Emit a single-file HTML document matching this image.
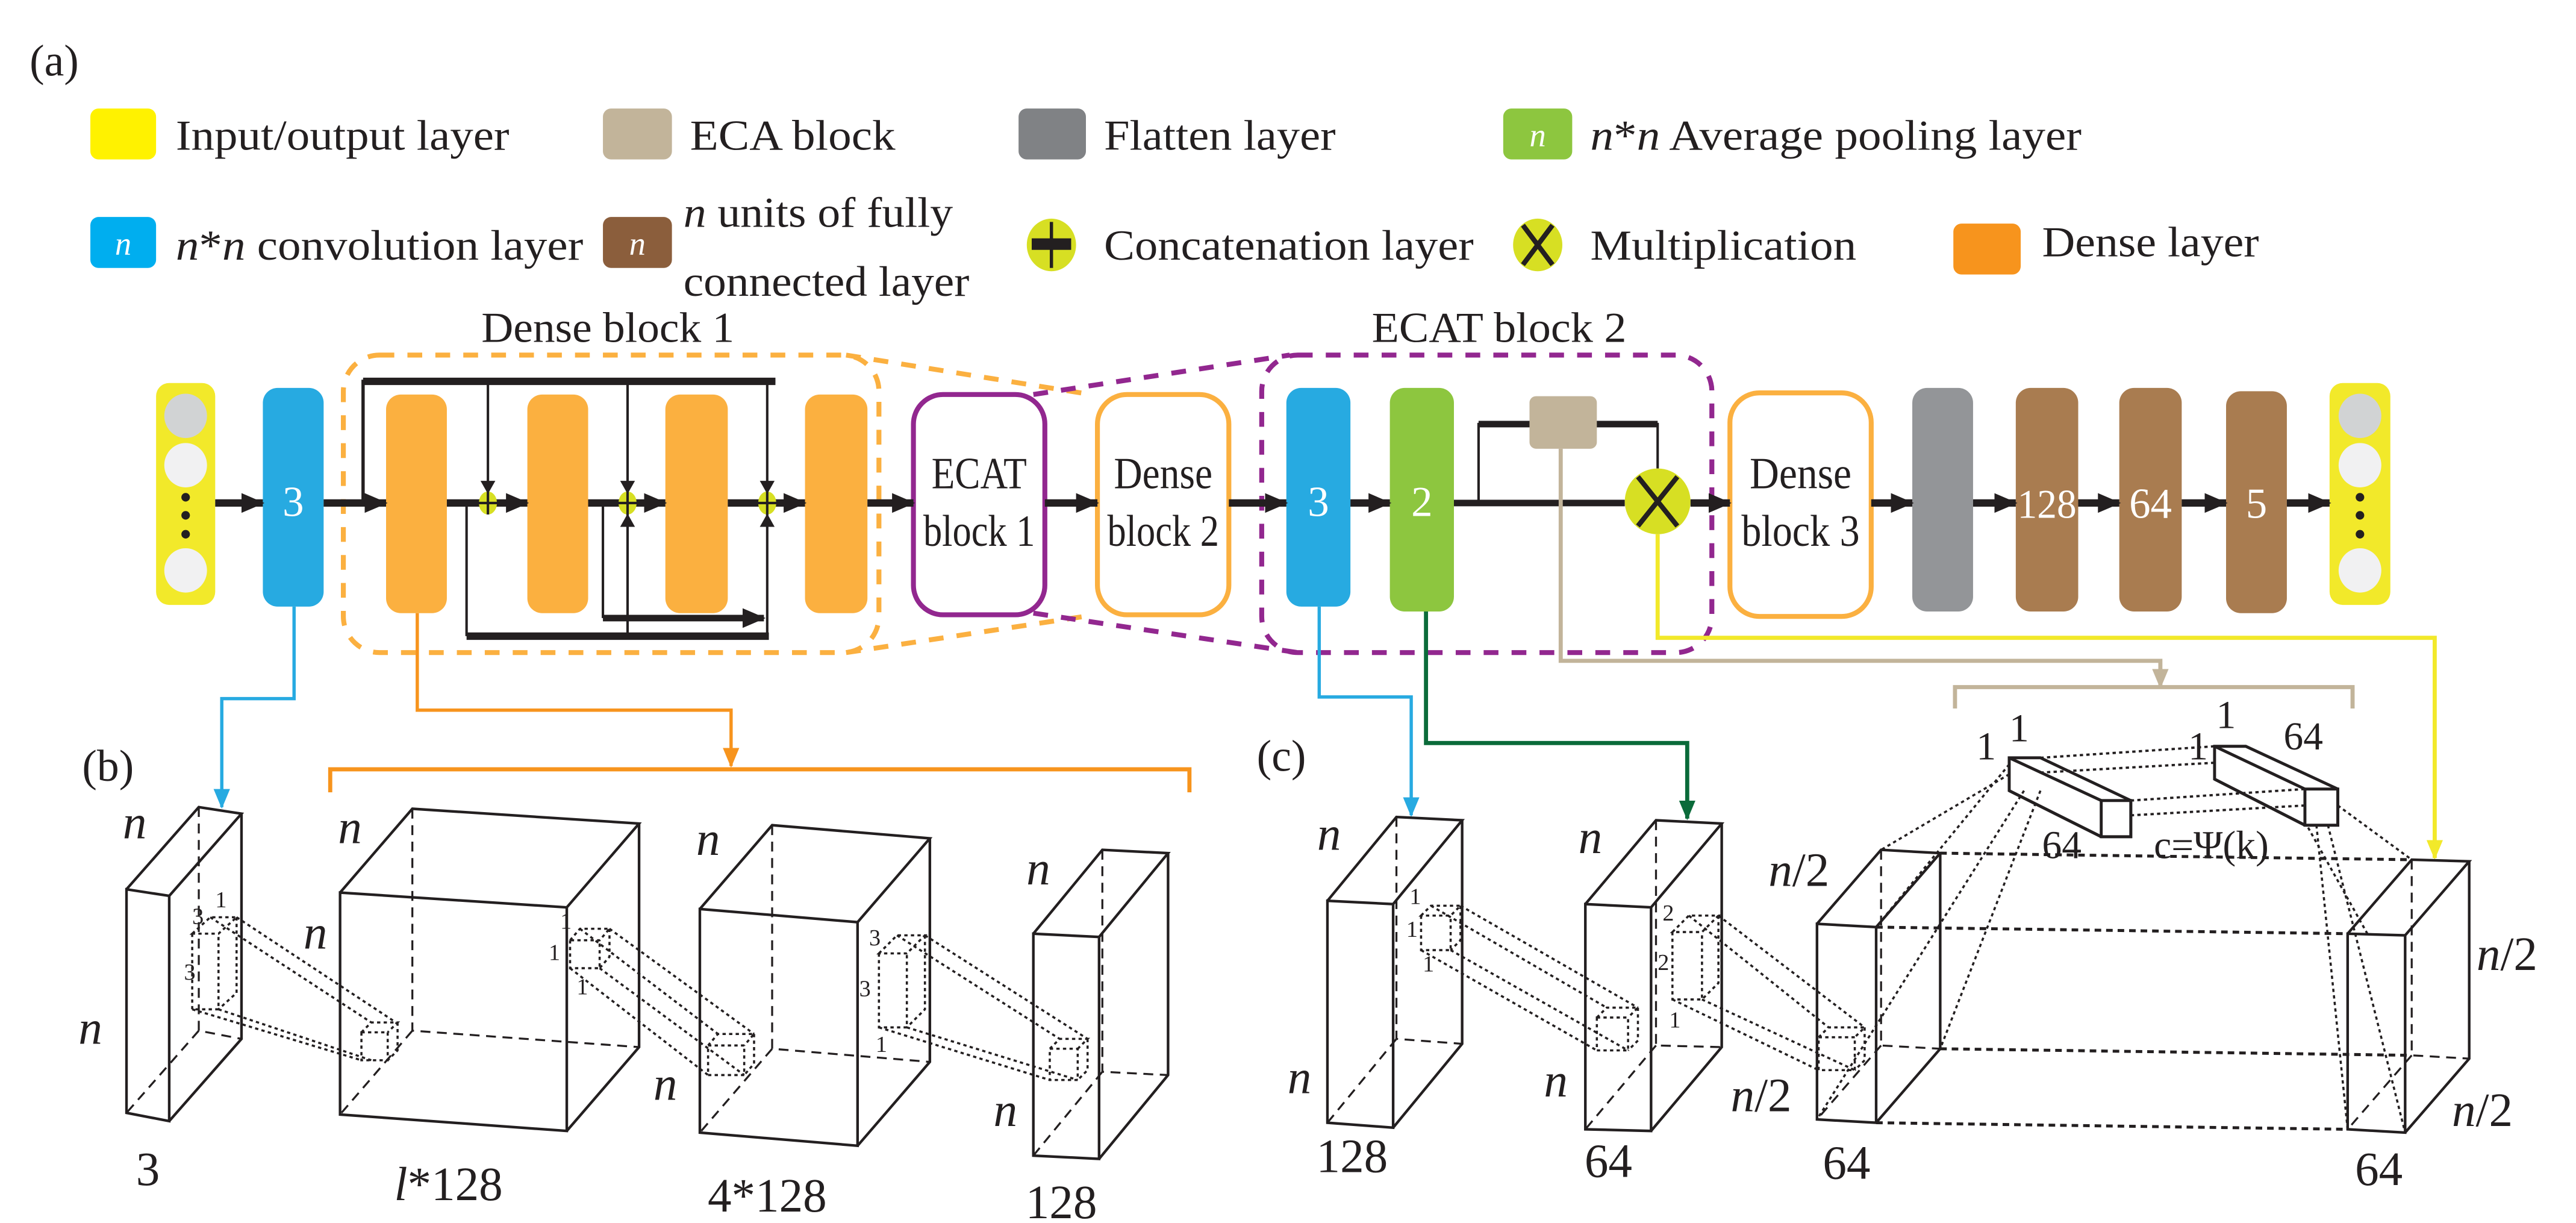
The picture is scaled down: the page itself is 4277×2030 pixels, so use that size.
<!DOCTYPE html>
<html><head><meta charset="utf-8"><style>
html,body{margin:0;padding:0;background:#fff}
svg{display:block}
text{font-family:"Liberation Serif","DejaVu Serif",serif;fill:#231f20}
.w{fill:#fff}
.it{font-style:italic}
</style></head><body>
<svg width="4277" height="2030" viewBox="0 0 1568 744" preserveAspectRatio="none" xmlns="http://www.w3.org/2000/svg" font-family="Liberation Serif, DejaVu Serif, serif">
<defs>
<marker id="ak" markerUnits="userSpaceOnUse" markerWidth="14" markerHeight="12" refX="13" refY="6" orient="auto"><path d="M0,0L14,6L0,12Z" fill="#231f20"/></marker>
<marker id="aks" markerUnits="userSpaceOnUse" markerWidth="8" markerHeight="14" refX="7.5" refY="7" orient="auto"><path d="M0,2.5L8,7L0,11.5Z" fill="#231f20"/></marker>
<marker id="ab" markerUnits="userSpaceOnUse" markerWidth="12" markerHeight="10" refX="11" refY="5" orient="auto"><path d="M0,0L12,5L0,10Z" fill="#27aae1"/></marker>
<marker id="ao" markerUnits="userSpaceOnUse" markerWidth="12" markerHeight="10" refX="11" refY="5" orient="auto"><path d="M0,0L12,5L0,10Z" fill="#f7941d"/></marker>
<marker id="ag" markerUnits="userSpaceOnUse" markerWidth="12" markerHeight="10" refX="11" refY="5" orient="auto"><path d="M0,0L12,5L0,10Z" fill="#0b6b3a"/></marker>
<marker id="at" markerUnits="userSpaceOnUse" markerWidth="12" markerHeight="10" refX="11" refY="5" orient="auto"><path d="M0,0L12,5L0,10Z" fill="#c2b49a"/></marker>
<marker id="ay" markerUnits="userSpaceOnUse" markerWidth="12" markerHeight="10" refX="11" refY="5" orient="auto"><path d="M0,0L12,5L0,10Z" fill="#f2e92a"/></marker>
</defs>

<text x="18" y="46" font-size="27">(a)</text>
<rect x="55" y="66" width="40" height="31" rx="5" fill="#fff200"/>
<text x="107" y="91" font-size="26" textLength="203" lengthAdjust="spacingAndGlyphs">Input/output layer</text>
<rect x="367" y="66" width="42" height="31" rx="5" fill="#c2b49a"/>
<text x="420" y="91" font-size="26" textLength="125" lengthAdjust="spacingAndGlyphs">ECA block</text>
<rect x="620" y="66" width="41" height="31" rx="5" fill="#808285"/>
<text x="672" y="91" font-size="26" textLength="141" lengthAdjust="spacingAndGlyphs">Flatten layer</text>
<rect x="915" y="66" width="42" height="31" rx="5" fill="#8dc63f"/>
<text x="936" y="89" font-size="20" class="w it" text-anchor="middle">n</text>
<text x="968" y="91" font-size="26" textLength="299" lengthAdjust="spacingAndGlyphs"><tspan class="it">n</tspan>*<tspan class="it">n</tspan> Average pooling layer</text>

<rect x="55" y="132" width="40" height="31" rx="5" fill="#00aeef"/>
<text x="75" y="155" font-size="20" class="w it" text-anchor="middle">n</text>
<text x="107" y="158" font-size="26" textLength="248" lengthAdjust="spacingAndGlyphs"><tspan class="it">n</tspan>*<tspan class="it">n</tspan> convolution layer</text>
<rect x="367" y="132" width="42" height="31" rx="5" fill="#8b5e3c"/>
<text x="388" y="155" font-size="20" class="w it" text-anchor="middle">n</text>
<text x="416" y="138" font-size="26" textLength="164" lengthAdjust="spacingAndGlyphs"><tspan class="it">n</tspan> units of fully</text>
<text x="416" y="180" font-size="26" textLength="174" lengthAdjust="spacingAndGlyphs">connected layer</text>
<ellipse cx="640" cy="149" rx="15" ry="16" fill="#d7df23"/>
<line x1="640" y1="135" x2="640" y2="163" stroke="#231f20" stroke-width="2"/>
<rect x="628" y="145" width="24" height="7" fill="#231f20"/>
<text x="672" y="158" font-size="26" textLength="225" lengthAdjust="spacingAndGlyphs">Concatenation layer</text>
<ellipse cx="936" cy="149" rx="15" ry="16" fill="#d7df23"/>
<path d="M927,137L945,161M945,137L927,161" stroke="#231f20" stroke-width="3"/>
<text x="968" y="158" font-size="26" textLength="162" lengthAdjust="spacingAndGlyphs">Multiplication</text>
<rect x="1189" y="136" width="41" height="31" rx="5" fill="#f7941d"/>
<text x="1243" y="156" font-size="26" textLength="132" lengthAdjust="spacingAndGlyphs">Dense layer</text>

<text x="293" y="208" font-size="26" textLength="154" lengthAdjust="spacingAndGlyphs">Dense block 1</text>
<text x="835" y="208" font-size="26" textLength="155" lengthAdjust="spacingAndGlyphs">ECAT block 2</text>

<rect x="209" y="216" width="326" height="181" rx="22" fill="none" stroke="#fbb040" stroke-width="3" stroke-dasharray="9,8"/>
<path d="M515,216L664,240M515,397L660,375" stroke="#fbb040" stroke-width="3" stroke-dasharray="9,8" fill="none"/>
<rect x="768" y="216" width="274" height="181" rx="22" fill="none" stroke="#92278f" stroke-width="3" stroke-dasharray="9,8"/>
<path d="M629,240L785,216M629,373L790,397" stroke="#92278f" stroke-width="3" stroke-dasharray="9,8" fill="none"/>

<rect x="95" y="233" width="36" height="135" rx="8" fill="#f2e92a"/>
<ellipse cx="113" cy="253" rx="13" ry="13.5" fill="#d1d3d4"/>
<ellipse cx="113" cy="283" rx="13" ry="13.5" fill="#f1f1f2"/>
<circle cx="113" cy="302.5" r="2.6" fill="#231f20"/><circle cx="113" cy="313.5" r="2.6" fill="#231f20"/><circle cx="113" cy="325" r="2.6" fill="#231f20"/>
<ellipse cx="113" cy="347" rx="13" ry="13.5" fill="#f1f1f2"/>

<rect x="160" y="236" width="37" height="133" rx="9" fill="#27aae1"/>
<text x="178.5" y="314" font-size="26" class="w" text-anchor="middle">3</text>

<rect x="235" y="240" width="37" height="133" rx="9" fill="#fbb040"/>
<rect x="321" y="240" width="37" height="133" rx="9" fill="#fbb040"/>
<rect x="405" y="240" width="38" height="133" rx="9" fill="#fbb040"/>
<rect x="490" y="240" width="38" height="133" rx="9" fill="#fbb040"/>

<g stroke="#231f20" fill="none">
<path d="M221,306V232H472" stroke-width="2"/>
<line x1="221" y1="232" x2="472" y2="232" stroke-width="4.5"/>
<line x1="297" y1="232" x2="297" y2="300" stroke-width="1.5" marker-end="url(#aks)"/>
<line x1="382" y1="232" x2="382" y2="300" stroke-width="1.5" marker-end="url(#aks)"/>
<line x1="467" y1="232" x2="467" y2="300" stroke-width="1.5" marker-end="url(#aks)"/>
<path d="M284,306V387" stroke-width="1.5"/>
<line x1="284" y1="387" x2="468" y2="387" stroke-width="4.5"/>
<line x1="382" y1="387" x2="382" y2="313" stroke-width="1.5" marker-end="url(#aks)"/>
<line x1="467" y1="387" x2="467" y2="313" stroke-width="1.5" marker-end="url(#aks)"/>
<path d="M367,306V376" stroke-width="1.5"/>
<line x1="367" y1="376" x2="465" y2="376" stroke-width="4" marker-end="url(#ak)"/>
</g>

<rect x="556" y="240" width="80" height="134" rx="18" fill="#fff" stroke="#92278f" stroke-width="3"/>
<text x="596" y="297" font-size="27" text-anchor="middle" textLength="58" lengthAdjust="spacingAndGlyphs">ECAT</text>
<text x="596" y="332" font-size="27" text-anchor="middle" textLength="68" lengthAdjust="spacingAndGlyphs">block 1</text>
<rect x="668" y="240" width="80" height="134" rx="18" fill="#fff" stroke="#fbb040" stroke-width="3"/>
<text x="708" y="297" font-size="27" text-anchor="middle" textLength="60" lengthAdjust="spacingAndGlyphs">Dense</text>
<text x="708" y="332" font-size="27" text-anchor="middle" textLength="68" lengthAdjust="spacingAndGlyphs">block 2</text>

<rect x="783" y="236" width="39" height="133" rx="9" fill="#27aae1"/>
<text x="802.5" y="314" font-size="26" class="w" text-anchor="middle">3</text>
<rect x="846" y="236" width="39" height="136" rx="9" fill="#8dc63f"/>
<text x="865.5" y="314" font-size="26" class="w" text-anchor="middle">2</text>
<path d="M900,306V258H1009V285" stroke="#231f20" stroke-width="1.5" fill="none"/>
<line x1="900" y1="258" x2="1009" y2="258" stroke="#231f20" stroke-width="4"/>
<rect x="931" y="241" width="41" height="32" rx="4" fill="#c2b49a"/>
<line x1="885" y1="306" x2="989" y2="306" stroke="#231f20" stroke-width="4"/>
<path d="M950,273V402H1315V418" stroke="#c2b49a" stroke-width="2.5" fill="none" marker-end="url(#at)"/>
<path d="M1009,325V388H1482V522" stroke="#f2e92a" stroke-width="2.5" fill="none" marker-end="url(#ay)"/>
<circle cx="1009" cy="305" r="20" fill="#d7df23"/>
<path d="M997,290L1021,320M1021,290L997,320" stroke="#231f20" stroke-width="3"/>

<rect x="1053" y="239" width="86" height="136" rx="18" fill="#fff" stroke="#fbb040" stroke-width="3"/>
<text x="1096" y="297" font-size="27" text-anchor="middle" textLength="62" lengthAdjust="spacingAndGlyphs">Dense</text>
<text x="1096" y="332" font-size="27" text-anchor="middle" textLength="72" lengthAdjust="spacingAndGlyphs">block 3</text>
<rect x="1164" y="236" width="37" height="136" rx="9" fill="#939598"/>
<rect x="1227" y="236" width="38" height="136" rx="9" fill="#a97c50"/>
<text x="1246" y="315" font-size="25" class="w" text-anchor="middle" textLength="36" lengthAdjust="spacingAndGlyphs">128</text>
<rect x="1290" y="236" width="38" height="136" rx="9" fill="#a97c50"/>
<text x="1309" y="315" font-size="26" class="w" text-anchor="middle">64</text>
<rect x="1355" y="238" width="37" height="135" rx="9" fill="#a97c50"/>
<text x="1373.5" y="315" font-size="26" class="w" text-anchor="middle">5</text>
<rect x="1418" y="233" width="37" height="135" rx="8" fill="#f2e92a"/>
<ellipse cx="1436.5" cy="253" rx="13" ry="13.5" fill="#d1d3d4"/>
<ellipse cx="1436.5" cy="283" rx="13" ry="13.5" fill="#f1f1f2"/>
<circle cx="1436.5" cy="302.5" r="2.6" fill="#231f20"/><circle cx="1436.5" cy="313.5" r="2.6" fill="#231f20"/><circle cx="1436.5" cy="325" r="2.6" fill="#231f20"/>
<ellipse cx="1436.5" cy="347" rx="13" ry="13.5" fill="#f1f1f2"/>

<g stroke="#231f20" stroke-width="4.5" marker-end="url(#ak)">
<line x1="131" y1="306" x2="160" y2="306"/>
<line x1="197" y1="306" x2="235" y2="306"/>
<line x1="272" y1="306" x2="321" y2="306"/>
<line x1="358" y1="306" x2="405" y2="306"/>
<line x1="443" y1="306" x2="490" y2="306"/>
<line x1="528" y1="306" x2="556" y2="306"/>
<line x1="636" y1="306" x2="668" y2="306"/>
<line x1="748" y1="306" x2="783" y2="306"/>
<line x1="822" y1="306" x2="846" y2="306"/>
<line x1="1029" y1="306" x2="1053" y2="306"/>
<line x1="1139" y1="306" x2="1164" y2="306"/>
<line x1="1201" y1="306" x2="1227" y2="306"/>
<line x1="1265" y1="306" x2="1290" y2="306"/>
<line x1="1328" y1="306" x2="1355" y2="306"/>
<line x1="1392" y1="306" x2="1418" y2="306"/>
</g>
<g fill="#d7df23">
<ellipse cx="297" cy="306" rx="5.5" ry="7"/><ellipse cx="382" cy="306" rx="5.5" ry="7"/><ellipse cx="467" cy="306" rx="5.5" ry="7"/>
</g>
<g stroke="#231f20" stroke-width="1.5">
<path d="M297,299V313M291,306H303M382,299V313M376,306H388M467,299V313M461,306H473"/>
</g>

<path d="M179,369V425H135V491" stroke="#27aae1" stroke-width="2" fill="none" marker-end="url(#ab)"/>
<path d="M254,373V432H445V466" stroke="#f7941d" stroke-width="2" fill="none" marker-end="url(#ao)"/>
<path d="M201,482V468H724V482" stroke="#f7941d" stroke-width="2.5" fill="none"/>
<path d="M803,369V424H859V496" stroke="#27aae1" stroke-width="2" fill="none" marker-end="url(#ab)"/>
<path d="M868,372V452H1027V498" stroke="#0b6b3a" stroke-width="2.5" fill="none" marker-end="url(#ag)"/>
<path d="M1190,431V418H1432V431" stroke="#c2b49a" stroke-width="2.5" fill="none"/>

<text x="50" y="475" font-size="27">(b)</text>
<text x="765" y="469" font-size="27">(c)</text>

<g fill="none" stroke="#231f20" stroke-width="1.6">
<path d="M77,541L103,545L103,682L77,677Z M77,541L121,491L147,495L103,545 M147,495L147,632L103,682"/>
<path d="M121,491V627L147,632M121,627L77,677" stroke-dasharray="6,4" stroke-width="1.2"/>
<path d="M207,543L345,552L345,688L207,678Z M207,543L251,492L389,501L345,552 M389,501L389,637L345,688"/>
<path d="M251,492V627L389,637M251,627L207,678" stroke-dasharray="6,4" stroke-width="1.2"/>
<path d="M426,553L522,561L522,697L426,689Z M426,553L470,502L566,510L522,561 M566,510L566,646L522,697"/>
<path d="M470,502V638L566,646M470,638L426,689" stroke-dasharray="6,4" stroke-width="1.2"/>
<path d="M629,568L669,570L669,705L629,703Z M629,568L671,517L711,519L669,570 M711,519L711,654L669,705"/>
<path d="M671,517V652L711,654M671,652L629,703" stroke-dasharray="6,4" stroke-width="1.2"/>
<path d="M808,548L848,550L848,686L808,683Z M808,548L850,497L890,499L848,550 M890,499L890,635L848,686"/>
<path d="M850,497V632L890,635M850,632L808,683" stroke-dasharray="6,4" stroke-width="1.2"/>
<path d="M965,550L1005,552L1005,688L965,687Z M965,550L1008,499L1048,501L1005,552 M1048,501L1048,637L1005,688"/>
<path d="M1008,499V636L1048,637M1008,636L965,687" stroke-dasharray="6,4" stroke-width="1.2"/>
<path d="M1106,562L1142,564L1142,683L1106,681Z M1106,562L1145,517L1181,519L1142,564 M1181,519L1181,638L1142,683"/>
<path d="M1145,517V636L1181,638M1145,636L1106,681" stroke-dasharray="6,4" stroke-width="1.2"/>
<path d="M1429,568L1464,569L1464,689L1429,687Z M1429,568L1468,523L1503,524L1464,569 M1503,524L1503,644L1464,689"/>
<path d="M1468,523V642L1503,644M1468,642L1429,687" stroke-dasharray="6,4" stroke-width="1.2"/>
</g>

<g fill="none" stroke="#231f20" stroke-width="1.3" stroke-dasharray="2,2">
<path d="M117,568L128,558L144,558L133,568Z M117,568V614H133V568 M144,558V604L133,614"/>
<path d="M128,558L226,622M144,558L241,622M133,614L226,645M117,614L220,645"/>
<path d="M220,628h16v17h-16Z M220,628l6,-6h16l-6,6 M242,622v17l-6,6"/>
<path d="M347,572L353,565H371L365,572Z M347,572V589H365V572 M371,565V582L365,589"/>
<path d="M353,565L437,629M371,565L459,629M365,589L453,654M347,589L431,654"/>
<path d="M431,636h22v18h-22Z M431,636l6,-7h22l-6,7 M459,629v18l-6,7"/>
<path d="M535,580L546,569H563L552,580Z M535,580V625H552V580 M563,569V614L552,625"/>
<path d="M546,569L645,632M563,569L662,632M552,625L656,657M535,625L639,657"/>
<path d="M639,638h17v19h-17Z M639,638l6,-6h17l-6,6 M662,632v19l-6,6"/>
<path d="M865,557L871,551H889L883,557Z M865,557V578H883V557 M889,551V572L883,578"/>
<path d="M871,551L978,613M889,551L997,613M883,578L991,639M865,578L972,639"/>
<path d="M972,619h19v20h-19Z M972,619l6,-6h19l-6,6 M997,613v20l-6,6"/>
<path d="M1018,567L1028,557H1046L1036,567Z M1018,567V608H1036V567 M1046,557V598L1036,608"/>
<path d="M1028,557L1113,625M1046,557L1135,625M1036,608L1129,651M1018,608L1107,651"/>
<path d="M1107,631h22v20h-22Z M1107,631l6,-6h22l-6,6 M1135,625v20l-6,6"/>
<path d="M1181,519L1468,523M1142,564L1429,568M1181,638L1468,642M1142,683L1429,687" stroke-dasharray="4,3" stroke-width="1.8"/>
<path d="M1242,461L1348,454M1242,470L1348,464M1297,487L1403,480M1297,496L1403,490" stroke-width="1.4"/>
<path d="M1223,471L1145,517M1232,481L1106,681M1223,465L1142,564M1242,481L1181,638"/>
<path d="M1423,490L1468,523M1410,502L1429,687M1417,502L1464,689M1403,500L1441,568"/>
</g>
<g fill="#fff" stroke="#231f20" stroke-width="1.8">
<path d="M1223,461L1242,461L1297,487L1297,509L1279,509L1223,481Z" fill="none"/>
<path d="M1223,461L1279,487M1223,481L1279,509" fill="none"/>
<rect x="1279" y="487" width="18" height="22"/>
<path d="M1348,454L1367,454L1423,480L1423,502L1403,502L1348,474Z" fill="none"/>
<path d="M1348,454L1403,480M1348,474L1403,502" fill="none"/>
<rect x="1403" y="480" width="20" height="22"/>
</g>

<g font-size="29">
<text x="82" y="510" class="it" text-anchor="middle">n</text>
<text x="55" y="635" class="it" text-anchor="middle">n</text>
<text x="90" y="721" text-anchor="middle">3</text>
<text x="213" y="513" class="it" text-anchor="middle">n</text>
<text x="192" y="577" class="it" text-anchor="middle">n</text>
<text x="273" y="730" text-anchor="middle"><tspan class="it">l</tspan>*128</text>
<text x="431" y="520" class="it" text-anchor="middle">n</text>
<text x="405" y="669" class="it" text-anchor="middle">n</text>
<text x="467" y="737" text-anchor="middle">4*128</text>
<text x="632" y="538" class="it" text-anchor="middle">n</text>
<text x="612" y="685" class="it" text-anchor="middle">n</text>
<text x="646" y="741" text-anchor="middle">128</text>
</g>
<g font-size="14">
<text x="117" y="562">3</text><text x="131" y="552">1</text><text x="112" y="596">3</text>
<text x="341" y="565">1</text><text x="334" y="584">1</text><text x="351" y="605">1</text>
<text x="529" y="575">3</text><text x="523" y="606">3</text><text x="533" y="640">1</text>
<text x="858" y="550">1</text><text x="856" y="570">1</text><text x="866" y="591">1</text>
<text x="1012" y="560">2</text><text x="1009" y="590">2</text><text x="1016" y="625">1</text>
</g>
<g font-size="29">
<text x="809" y="517" class="it" text-anchor="middle">n</text>
<text x="791" y="665" class="it" text-anchor="middle">n</text>
<text x="823" y="713" text-anchor="middle">128</text>
<text x="968" y="519" class="it" text-anchor="middle">n</text>
<text x="947" y="667" class="it" text-anchor="middle">n</text>
<text x="979" y="716" text-anchor="middle">64</text>
<text x="1095" y="539" text-anchor="middle"><tspan class="it">n</tspan>/2</text>
<text x="1072" y="676" text-anchor="middle"><tspan class="it">n</tspan>/2</text>
<text x="1124" y="717" text-anchor="middle">64</text>
<text x="1526" y="590" text-anchor="middle"><tspan class="it">n</tspan>/2</text>
<text x="1511" y="685" text-anchor="middle"><tspan class="it">n</tspan>/2</text>
<text x="1448" y="721" text-anchor="middle">64</text>
</g>
<g font-size="24">
<text x="1209" y="462" text-anchor="middle">1</text>
<text x="1229" y="451" text-anchor="middle">1</text>
<text x="1255" y="522" text-anchor="middle">64</text>
<text x="1346" y="522" text-anchor="middle">c=Ψ(k)</text>
<text x="1338" y="462" text-anchor="middle">1</text>
<text x="1355" y="443" text-anchor="middle">1</text>
<text x="1402" y="456" text-anchor="middle">64</text>
</g>
</svg>
</body></html>
